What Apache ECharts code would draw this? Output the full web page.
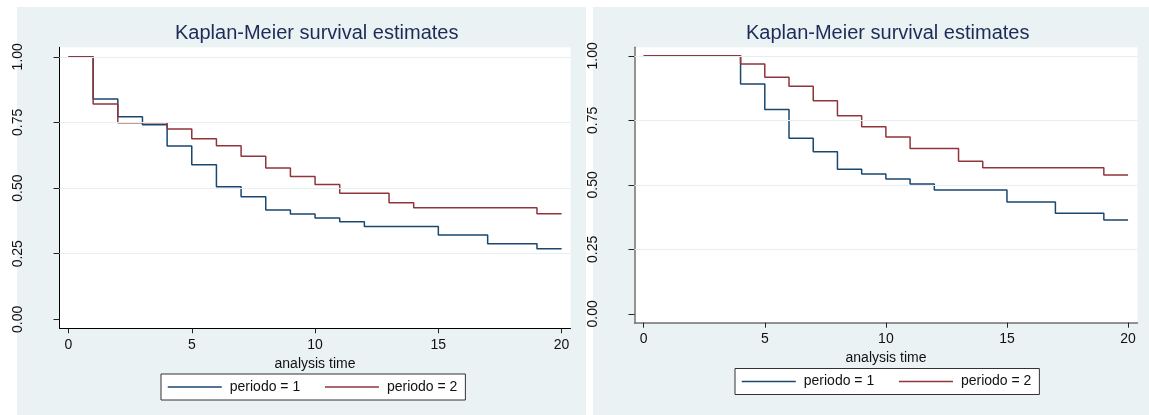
<!DOCTYPE html>
<html>
<head>
<meta charset="utf-8">
<script src="https://cdn.jsdelivr.net/npm/echarts@6/dist/echarts.min.js"></script>
<style>
  html, body { margin: 0; padding: 0; background: #fff; }
  #chart { width: 1149px; height: 415px; }
</style>
</head>
<body>
<div id="chart"></div>
<script>
const titleText = 'Kaplan-Meier survival estimates';
const groupNames = ['periodo = 1', 'periodo = 2'];
const xTicks = [0, 5, 10, 15, 20];
const yTicks = [0, 0.25, 0.5, 0.75, 1];

// left panel: survival after each event time
const leftTime1 = [0, 1, 2, 3, 4, 5, 6, 7, 8, 9, 10, 11, 12, 15, 17, 19, 20];
const leftSurv1 = [1, 0.839, 0.772, 0.741, 0.660, 0.589, 0.505, 0.467, 0.416, 0.401, 0.386, 0.372, 0.354, 0.321, 0.288, 0.269, 0.269];
const leftTime2 = [0, 1, 2, 4, 5, 6, 7, 8, 9, 10, 11, 13, 14, 19, 20];
const leftSurv2 = [1, 0.820, 0.749, 0.725, 0.688, 0.661, 0.621, 0.576, 0.544, 0.514, 0.480, 0.444, 0.425, 0.402, 0.402];

// right panel
const rightTime1 = [0, 4, 5, 6, 7, 8, 9, 10, 11, 12, 15, 17, 19, 20];
const rightSurv1 = [1, 0.891, 0.792, 0.681, 0.628, 0.561, 0.542, 0.523, 0.503, 0.480, 0.434, 0.390, 0.364, 0.364];
const rightTime2 = [0, 4, 5, 6, 7, 8, 9, 10, 11, 13, 14, 19, 20];
const rightSurv2 = [1, 0.968, 0.917, 0.882, 0.826, 0.768, 0.725, 0.685, 0.641, 0.592, 0.566, 0.538, 0.538];

const lineColors = ['#1a476f', '#90353b'];
const font = 'Liberation Sans, Arial, sans-serif';

const panels = [
  {
    grid: {left: 59.5, top: 47.3, width: 511, height: 281},
    xMin: -0.365, xMax: 20.36, yMin: -0.034, yMax: 1.036,
    axisColor: '#000', axisWidth: 1,
    titleLeft: 175, legendPos: {left: 161, top: 374},
    bg: {x: 17, y: 7, width: 569, height: 408},
    curves: [[leftTime1, leftSurv1], [leftTime2, leftSurv2]]
  },
  {
    grid: {left: 634.5, top: 47.3, width: 503, height: 275.4},
    xMin: -0.38, xMax: 20.39, yMin: -0.034, yMax: 1.033,
    axisColor: '#707070', axisWidth: 1.5,
    titleLeft: 746, legendPos: {left: 735, top: 368.5},
    bg: {x: 593, y: 7, width: 556, height: 408},
    curves: [[rightTime1, rightSurv1], [rightTime2, rightSurv2]]
  }
];

const option = {
  animation: false,
  graphic: {
    elements: panels.map(p => ({
      type: 'rect', z: -10, silent: true,
      shape: p.bg,
      style: {fill: '#eaf2f3'}
    }))
  },
  title: panels.map(p => ({
    text: titleText, left: p.titleLeft, top: 23, padding: 0,
    textStyle: {fontSize: 20, fontWeight: 'normal', color: '#1c2b58', fontFamily: font}
  })),
  legend: panels.map(p => ({
    left: p.legendPos.left, top: p.legendPos.top,
    data: groupNames, selectedMode: false,
    backgroundColor: '#fff', borderColor: '#333', borderWidth: 1,
    padding: [6, 8, 6, 6], itemWidth: 54, itemHeight: 14, itemGap: 24,
    itemStyle: {opacity: 0},
    lineStyle: {width: 1.5},
    textStyle: {fontSize: 14, color: '#111', fontFamily: font, padding: [0, 0, 0, 3]}
  })),
  grid: panels.map(p => Object.assign({
    show: true, backgroundColor: '#fff', borderWidth: 0
  }, p.grid)),
  xAxis: panels.map((p, i) => ({
    type: 'value', gridIndex: i, min: p.xMin, max: p.xMax,
    axisLine: {show: true, onZero: false, lineStyle: {color: p.axisColor, width: p.axisWidth}},
    axisTick: {show: true, length: 5, customValues: xTicks, lineStyle: {color: '#222'}},
    axisLabel: {customValues: xTicks, margin: 9.5, fontSize: 14, color: '#111', fontFamily: font},
    splitLine: {show: false},
    name: 'analysis time', nameLocation: 'middle', nameGap: 20,
    nameTextStyle: {fontSize: 14, color: '#111', fontFamily: font}
  })),
  yAxis: panels.map((p, i) => ({
    type: 'value', gridIndex: i, min: p.yMin, max: p.yMax,
    axisLine: {show: true, onZero: false, lineStyle: {color: p.axisColor, width: p.axisWidth}},
    axisTick: {show: true, length: 6, customValues: yTicks, lineStyle: {color: '#222'}},
    axisLabel: {
      customValues: yTicks, rotate: 90, margin: 34, fontSize: 14,
      color: '#111', fontFamily: font, formatter: v => v.toFixed(2)
    },
    splitLine: {show: false}
  })),
  series: []
};

panels.forEach((p, i) => {
  // gridlines at the tick values above zero
  option.series.push({
    type: 'line', xAxisIndex: i, yAxisIndex: i, data: [], silent: true, z: 1,
    markLine: {
      silent: true, symbol: 'none', label: {show: false},
      lineStyle: {color: '#e6eef0', width: 1.2, type: 'solid'},
      emphasis: {disabled: true},
      data: yTicks.filter(v => v > 0).map(v => ({yAxis: v}))
    }
  });
  p.curves.forEach(([times, surv], k) => {
    option.series.push({
      type: 'line', name: groupNames[k], xAxisIndex: i, yAxisIndex: i, z: 3,
      step: 'end', symbol: 'none',
      data: times.map((t, j) => [t, surv[j]]),
      lineStyle: {color: lineColors[k], width: 1.5},
      itemStyle: {color: lineColors[k]}
    });
  });
});

const chart = echarts.init(document.getElementById('chart'));
chart.setOption(option);
</script>
</body>
</html>
